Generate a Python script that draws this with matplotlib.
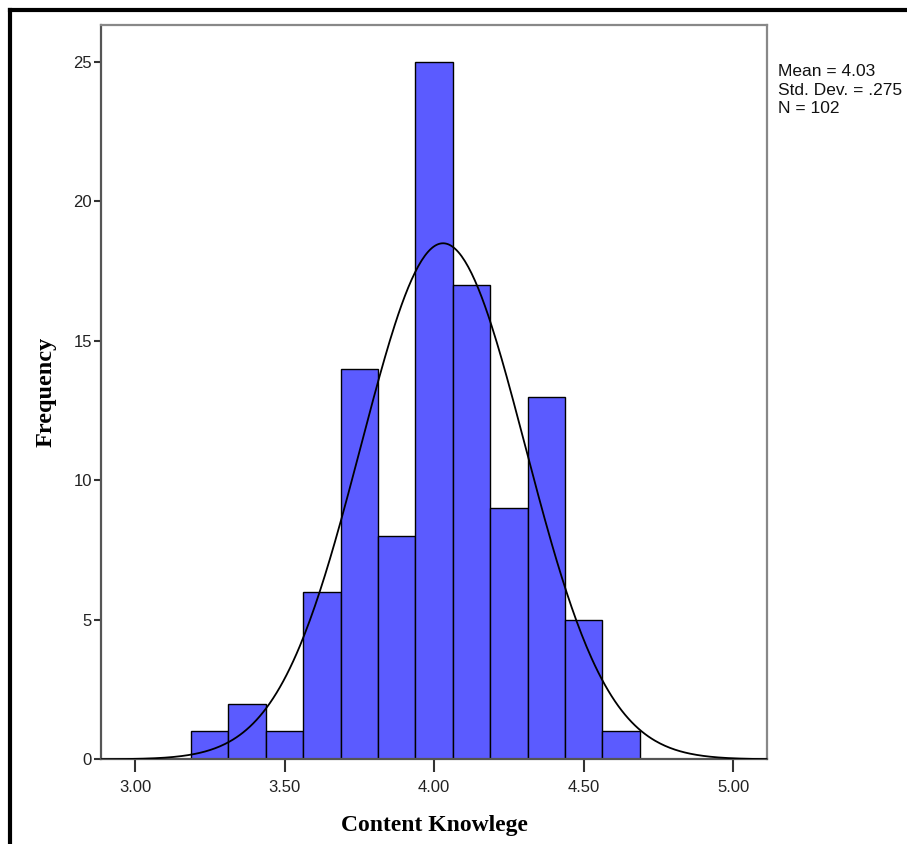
import numpy as np
import matplotlib
matplotlib.use("Agg")
import matplotlib.pyplot as plt

# histogram of Content Knowlege scores (SPSS style)
bin_start = 3.1875
bin_width = 0.125
counts = [1, 2, 1, 6, 14, 8, 25, 17, 9, 13, 5, 1]
mean = 4.03
std = 0.275
n = 102
xticks = [3.00, 3.50, 4.00, 4.50, 5.00]
yticks = [0, 5, 10, 15, 20, 25]

bar_color = "#5B5BFF"
spine_color = "#555555"

fig = plt.figure(figsize=(9.07, 8.44), dpi=100)
ax = fig.add_axes([0.1119, 0.1003, 0.7334, 0.8701])

lefts = bin_start + bin_width * np.arange(len(counts))
ax.bar(lefts, counts, width=bin_width, align="edge", color=bar_color,
       edgecolor="black", linewidth=1.0, zorder=2)

# normal curve scaled to counts
xs = np.linspace(2.888, 5.112, 400)
ys = n * bin_width * np.exp(-0.5 * ((xs - mean) / std) ** 2) / (std * np.sqrt(2 * np.pi))
ax.plot(xs, ys, color="black", linewidth=1.3, zorder=3)

ax.set_xlim(2.888, 5.112)
ax.set_ylim(0, 26.32)
ax.set_xticks(xticks)
ax.set_xticklabels(["%.2f" % t for t in xticks])
ax.set_yticks(yticks)

for s in ax.spines.values():
    s.set_color(spine_color)
    s.set_linewidth(1.6)
ax.spines["top"].set_color("#888888")
ax.spines["right"].set_color("#888888")

ax.tick_params(axis="x", direction="out", length=9, width=1.5, color="#333333",
               labelsize=12, pad=6, labelcolor="#222222")
ax.tick_params(axis="y", direction="out", length=5, width=1.5, color="#333333",
               labelsize=12, pad=2, labelcolor="#222222")
for lab in ax.get_xticklabels() + ax.get_yticklabels():
    lab.set_family("Liberation Sans")

ax.set_xlabel("Content Knowlege", fontfamily="Liberation Serif", fontweight="bold",
              fontsize=17, labelpad=14)
ax.set_ylabel("Frequency", fontfamily="Liberation Serif", fontweight="bold",
              fontsize=17.5, labelpad=12)

fig.text(778 / 907, 1 - 64 / 844, "Mean = 4.03\nStd. Dev. = .275\nN = 102",
         fontfamily="Liberation Sans", fontsize=12.5, va="top", ha="left",
         linespacing=1.3, color="#111111")

# outer frame of the exported picture
fig.add_artist(plt.Line2D([10 / 907, 10 / 907], [0, 1 - 10 / 844], color="black",
                          linewidth=3, transform=fig.transFigure))
fig.add_artist(plt.Line2D([10 / 907, 1], [1 - 10 / 844, 1 - 10 / 844], color="black",
                          linewidth=3, transform=fig.transFigure))

fig.savefig("out.png", dpi=100)
